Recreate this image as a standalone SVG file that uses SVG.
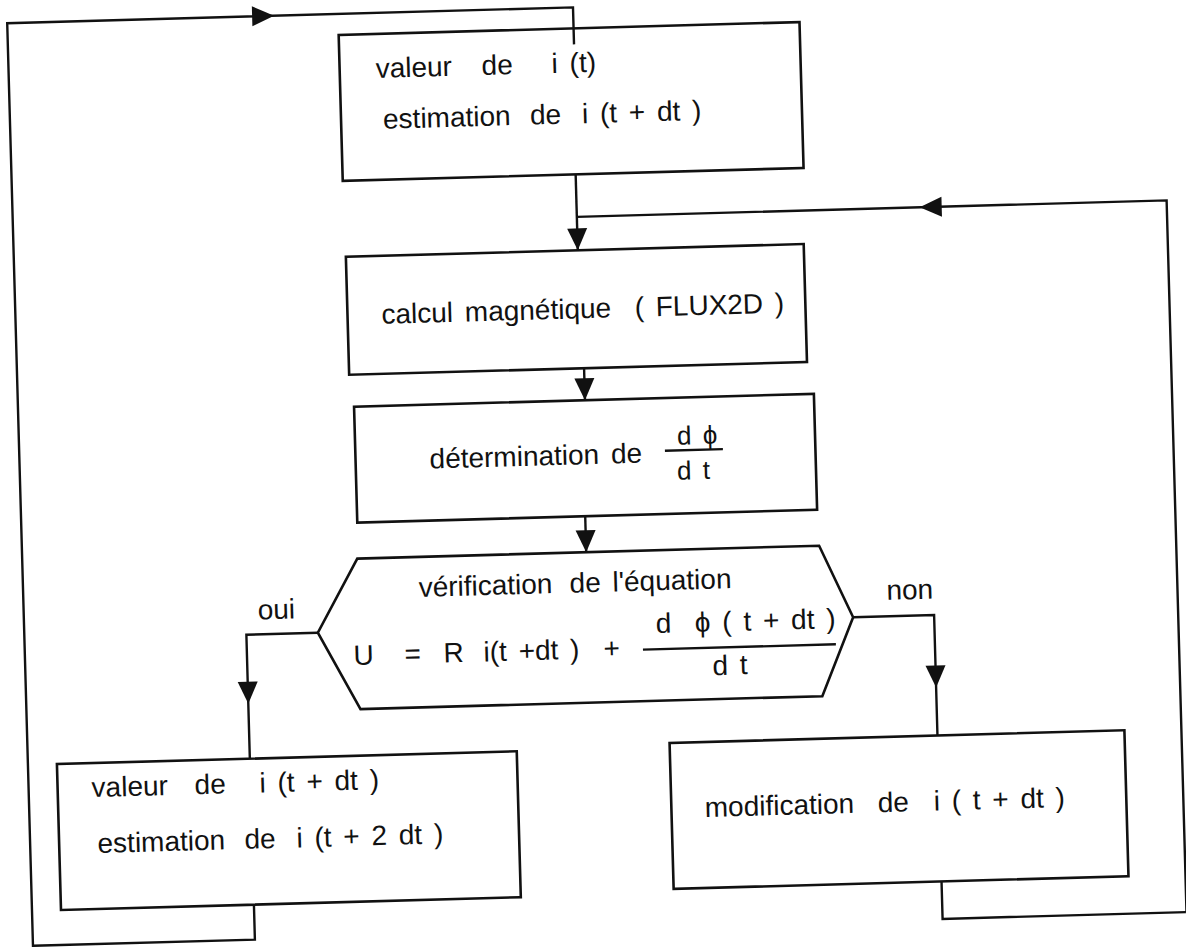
<svg xmlns="http://www.w3.org/2000/svg" width="1186" height="947" viewBox="0 0 1186 947">
<style>
 .b{fill:none;stroke:#111;stroke-width:2.6;stroke-linejoin:miter}
 .c{fill:none;stroke:#111;stroke-width:2.4}
 .t{font-family:"Liberation Sans",Arial,"DejaVu Sans",sans-serif;font-size:28px;fill:#111;word-spacing:4px}
 .f{font-size:26px}
 .ah{fill:#111}
</style>
<defs><path id="ah" d="M0,0 L-10,-22 L10,-22 Z"/></defs>
<rect width="1186" height="947" fill="#fff"/>
<g transform="rotate(-1.6 593 473)">
 <g id="connectors">
  <path class="c" d="M242,895 V930 H20 V7 H586 V44"/>
  <use href="#ah" class="ah" transform="translate(287,7) rotate(-90)"/>
  <path class="c" d="M584,174 V250"/>
  <use href="#ah" class="ah" transform="translate(584,250)"/>
  <path class="c" d="M930,891 V928.5 H1174 V216.5 H584"/>
  <use href="#ah" class="ah" transform="translate(927,216.5) rotate(90)"/>
  <path class="c" d="M587,368 V400"/>
  <use href="#ah" class="ah" transform="translate(587,400)"/>
  <path class="c" d="M584,516 V552"/>
  <use href="#ah" class="ah" transform="translate(584,552)"/>
  <path class="c" d="M313.5,625 H242 V749"/>
  <use href="#ah" class="ah" transform="translate(242,694)"/>
  <path class="c" d="M849,624.5 H930 V745"/>
  <use href="#ah" class="ah" transform="translate(930,697)"/>
  <text class="t" x="254" y="610">oui</text>
  <text class="t" x="883" y="608">non</text>
 </g>
 <g id="n-valeur-t">
  <rect class="b" x="351" y="28" width="461" height="146"/>
  <text class="t" y="72"><tspan x="387">valeur </tspan><tspan x="493">de </tspan><tspan x="563">i (t)</tspan></text>
  <text class="t" y="123"><tspan x="393">estimation </tspan><tspan x="540">de </tspan><tspan x="592">i (t + dt )</tspan></text>
 </g>
 <g id="n-calcul">
  <rect class="b" x="352" y="250" width="458" height="118"/>
  <text class="t" x="386" y="318" xml:space="preserve">calcul magnétique  ( FLUX2D )</text>
 </g>
 <g id="n-determination">
  <rect class="b" x="356" y="400" width="460" height="116"/>
  <text class="t" x="430" y="464">détermination de</text>
  <text class="t f" x="678" y="447">d ϕ</text>
  <line class="c" x1="665.5" y1="452.8" x2="723.5" y2="452.8"/>
  <text class="t f" x="677" y="482">d t</text>
 </g>
 <g id="n-verification">
  <path class="b" d="M355,552 L817,552 L849,624.5 L816,702.5 L354,702.5 L313.5,625 Z"/>
  <text class="t" y="592"><tspan x="415.5">vérification </tspan><tspan x="566.5">de l'équation</tspan></text>
  <text class="t" x="651.5" y="634.8" xml:space="preserve">d  ϕ ( t + dt )</text>
  <line class="c" x1="638" y1="651" x2="831" y2="651"/>
  <text class="t" x="707" y="678.4">d t</text>
  <text class="t" y="658.3"><tspan x="348.6">U </tspan><tspan x="399.6">= </tspan><tspan x="438.6">R </tspan><tspan x="478.6">i(t +dt ) </tspan><tspan x="598.6">+</tspan></text>
 </g>
 <g id="n-valeur-tdt">
  <rect class="b" x="49" y="749" width="460" height="146"/>
  <text class="t" y="783"><tspan x="83">valeur </tspan><tspan x="186">de </tspan><tspan x="251">i (t + dt )</tspan></text>
  <text class="t" y="839"><tspan x="87.4">estimation </tspan><tspan x="234.4">de </tspan><tspan x="286.4">i (t + 2 dt )</tspan></text>
 </g>
 <g id="n-modification">
  <rect class="b" x="662" y="745" width="455" height="146"/>
  <text class="t" y="820"><tspan x="695.4">modification </tspan><tspan x="868.4">de </tspan><tspan x="924.4">i ( t + dt )</tspan></text>
 </g>
</g>
</svg>
